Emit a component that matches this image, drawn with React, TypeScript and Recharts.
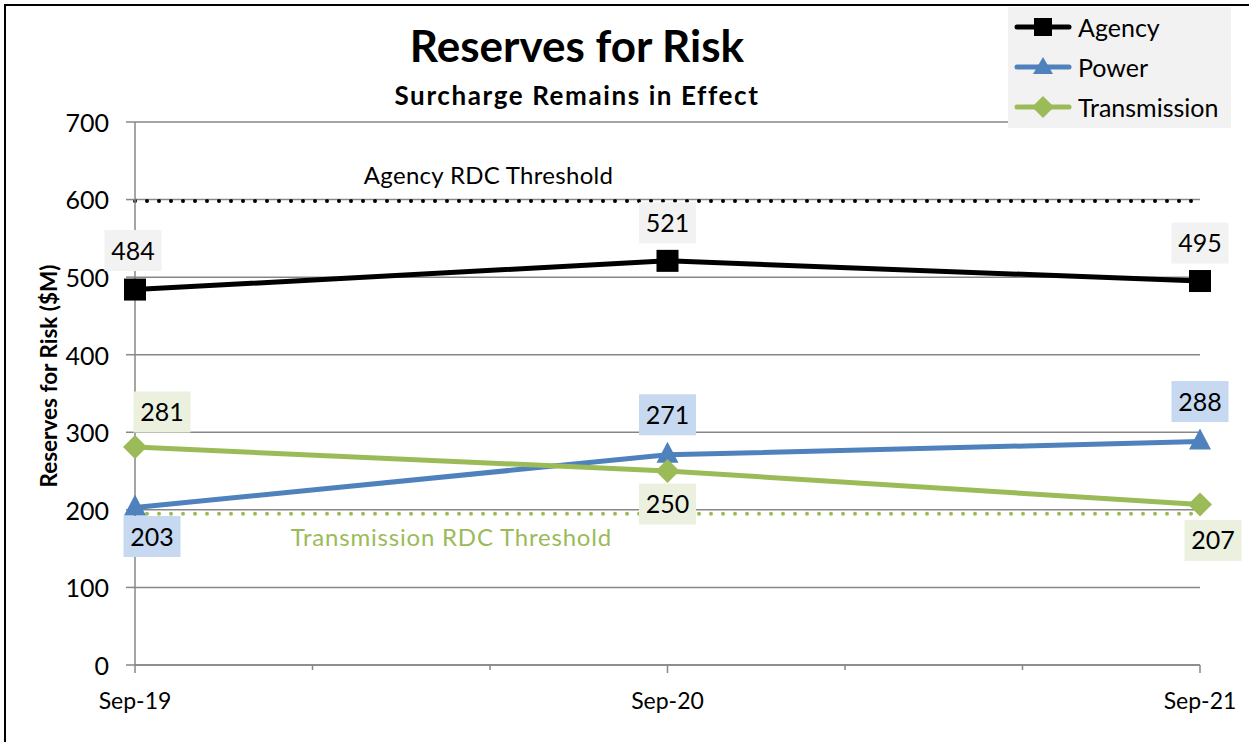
import React from "react";
import {
  LineChart,
  Line,
  XAxis,
  YAxis,
  CartesianGrid,
  ReferenceLine,
  LabelList,
} from "recharts";

const categories = ["Sep-19", "Sep-20", "Sep-21"];
const months = [0, 12, 24];
const agency = [484, 521, 495];
const power = [203, 271, 288];
const transmission = [281, 250, 207];
const agencyThreshold = 598;
const transmissionThreshold = 195;
const yTicks = [0, 100, 200, 300, 400, 500, 600, 700];
const xTicks = [0, 4, 8, 12, 16, 20, 24];

const FONT = "Lato, 'Open Sans', sans-serif";
const BLACK = "#000000";
const BLUE = "#4f81bd";
const GREEN = "#9bbb59";
const GRID = "#878787";

const data = months.map((m, i) => ({
  m,
  agency: agency[i],
  power: power[i],
  transmission: transmission[i],
}));

// label placement per point (offsets from the marker)
const agencyPos = [
  { dx: -2, dy: -39 },
  { dx: 0, dy: -38 },
  { dx: 0, dy: -38 },
];
const powerPos = [
  { dx: 17, dy: 29 },
  { dx: 0, dy: -40 },
  { dx: 0, dy: -40 },
];
const transPos = [
  { dx: 27, dy: -35 },
  { dx: 0, dy: 33 },
  { dx: 13, dy: 36 },
];

function makeLabel(pos: { dx: number; dy: number }[], bg: string) {
  return function DataLabel(props: any) {
    const { x, y, value, index } = props;
    const p = pos[index] ?? { dx: 0, dy: -38 };
    const cx = x + p.dx;
    const cy = y + p.dy;
    return (
      <g>
        <rect x={cx - 28.5} y={cy - 20.5} width={57} height={41} fill={bg} />
        <text
          x={cx}
          y={cy + 9}
          textAnchor="middle"
          fontSize={25}
          fontFamily={FONT}
          fill="#000"
        >
          {value}
        </text>
      </g>
    );
  };
}

function SquareDot(props: any) {
  const { cx, cy, index } = props;
  return <rect key={`sq-${index}`} x={cx - 11} y={cy - 11} width={22} height={22} fill={BLACK} />;
}

function TriangleDot(props: any) {
  const { cx, cy, index } = props;
  return (
    <polygon
      key={`tr-${index}`}
      points={`${cx},${cy - 13} ${cx + 11},${cy + 8} ${cx - 11},${cy + 8}`}
      fill={BLUE}
    />
  );
}

function DiamondDot(props: any) {
  const { cx, cy, index } = props;
  return (
    <polygon
      key={`dm-${index}`}
      points={`${cx},${cy - 12} ${cx + 12},${cy} ${cx},${cy + 12} ${cx - 12},${cy}`}
      fill={GREEN}
    />
  );
}

function XTick(props: any) {
  const { x, y, payload } = props;
  const idx = months.indexOf(payload.value);
  const major = idx >= 0;
  return (
    <g>
      <line x1={x} y1={y} x2={x} y2={y + (major ? 8 : 5)} stroke={GRID} strokeWidth={1.5} />
      {major && (
        <text x={x} y={y + 44} textAnchor="middle" fontSize={23} fontFamily={FONT} fill="#000">
          {categories[idx]}
        </text>
      )}
    </g>
  );
}

function ThresholdLabel(text: string, color: string, at: number, dy: number, spacing: number) {
  return function Lbl(props: any) {
    const { viewBox } = props;
    return (
      <text
        x={viewBox.x + viewBox.width * at}
        y={viewBox.y + dy}
        textAnchor="middle"
        fontSize={24}
        letterSpacing={spacing}
        fontFamily={FONT}
        fill={color}
      >
        {text}
      </text>
    );
  };
}

function LegendIcon({ color, shape }: { color: string; shape: string }) {
  return (
    <svg width={58} height={24} style={{ marginRight: 6 }}>
      <line x1={3} y1={12} x2={55} y2={12} stroke={color} strokeWidth={5} strokeLinecap="round" />
      {shape === "square" && <rect x={20} y={3} width={18} height={18} fill={color} />}
      {shape === "triangle" && <polygon points="29,2 39,19 19,19" fill={color} />}
      {shape === "diamond" && <polygon points="29,1 40,12 29,23 18,12" fill={color} />}
    </svg>
  );
}

const legendItems = [
  { name: "Agency", color: BLACK, shape: "square" },
  { name: "Power", color: BLUE, shape: "triangle" },
  { name: "Transmission", color: GREEN, shape: "diamond" },
];

export default function App() {
  return (
    <div
      style={{
        position: "absolute",
        left: 0,
        top: 0,
        width: 1249,
        height: 742,
        overflow: "hidden",
        background: "#fff",
        fontFamily: FONT,
      }}
    >
      <div style={{ position: "absolute", left: 0, top: 0, width: 1249, height: 742 }}>
        <LineChart
          width={1249}
          height={742}
          data={data}
          margin={{ top: 122, right: 49, bottom: 37, left: 75 }}
        >
          <CartesianGrid horizontal vertical={false} stroke={GRID} strokeWidth={1.5} />
          <XAxis
            dataKey="m"
            type="number"
            domain={[0, 24]}
            ticks={xTicks}
            interval={0}
            height={40}
            tickLine={false}
            tickSize={0}
            tickMargin={0}
            axisLine={{ stroke: GRID, strokeWidth: 1.5 }}
            tick={<XTick />}
          />
          <YAxis
            type="number"
            domain={[0, 700]}
            ticks={yTicks}
            interval={0}
            width={60}
            tickSize={9}
            tickMargin={17}
            tickLine={{ stroke: GRID, strokeWidth: 1.5 }}
            axisLine={{ stroke: GRID, strokeWidth: 1.5 }}
            tick={{ fontSize: 25, fontFamily: FONT, fill: "#000", dy: 1 }}
          />
          <ReferenceLine
            y={agencyThreshold}
            stroke={BLACK}
            strokeWidth={4}
            strokeDasharray="0 12"
            strokeLinecap="round"
            label={ThresholdLabel("Agency RDC Threshold", "#000", 0.332, -17, 0.3)}
          />
          <ReferenceLine
            y={transmissionThreshold}
            stroke={GREEN}
            strokeWidth={4}
            strokeDasharray="0 12"
            strokeLinecap="round"
            label={ThresholdLabel("Transmission RDC Threshold", GREEN, 0.297, 32, 0.8)}
          />
          <Line
            dataKey="agency"
            stroke={BLACK}
            strokeWidth={5}
            dot={SquareDot}
            activeDot={false}
            isAnimationActive={false}
          >
            <LabelList dataKey="agency" content={makeLabel(agencyPos, "#f2f2f2")} />
          </Line>
          <Line
            dataKey="power"
            stroke={BLUE}
            strokeWidth={5}
            dot={TriangleDot}
            activeDot={false}
            isAnimationActive={false}
          >
            <LabelList dataKey="power" content={makeLabel(powerPos, "#c6d9f1")} />
          </Line>
          <Line
            dataKey="transmission"
            stroke={GREEN}
            strokeWidth={5}
            dot={DiamondDot}
            activeDot={false}
            isAnimationActive={false}
          >
            <LabelList dataKey="transmission" content={makeLabel(transPos, "#ebf1de")} />
          </Line>
        </LineChart>
      </div>
      <svg
        width={1249}
        height={742}
        style={{ position: "absolute", left: 0, top: 0, zIndex: 2, pointerEvents: "none" }}
      >
        <line x1={5} y1={5} x2={5} y2={742} stroke="#000" strokeWidth={2} />
        <line x1={4} y1={5} x2={1249} y2={5} stroke="#000" strokeWidth={2} />
      </svg>
      <div
        style={{
          position: "absolute",
          left: 0,
          width: 1154,
          top: 17,
          textAlign: "center",
          fontWeight: 700,
          fontSize: 44,
          lineHeight: "56px",
        }}
      >
        Reserves for Risk
      </div>
      <div
        style={{
          position: "absolute",
          left: 0,
          width: 1154,
          top: 79,
          textAlign: "center",
          fontWeight: 700,
          fontSize: 26,
          letterSpacing: 1.6,
          lineHeight: "32px",
        }}
      >
        Surcharge Remains in Effect
      </div>
      <div
        style={{
          position: "absolute",
          left: 48,
          top: 376,
          transform: "translate(-50%, -50%) rotate(-90deg)",
          transformOrigin: "center",
          whiteSpace: "nowrap",
          fontWeight: 700,
          fontSize: 22.5,
        }}
      >
        Reserves for Risk ($M)
      </div>
      <div
        style={{
          position: "absolute",
          left: 1008,
          top: 7,
          width: 223,
          height: 121,
          background: "#f2f2f2",
          boxSizing: "border-box",
          padding: "0 0 0 6px",
          zIndex: 3,
        }}
      >
        {legendItems.map((it) => (
          <div
            key={it.name}
            style={{ display: "flex", alignItems: "center", height: 40, fontSize: 25 }}
          >
            <LegendIcon color={it.color} shape={it.shape} />
            <span>{it.name}</span>
          </div>
        ))}
      </div>
    </div>
  );
}
